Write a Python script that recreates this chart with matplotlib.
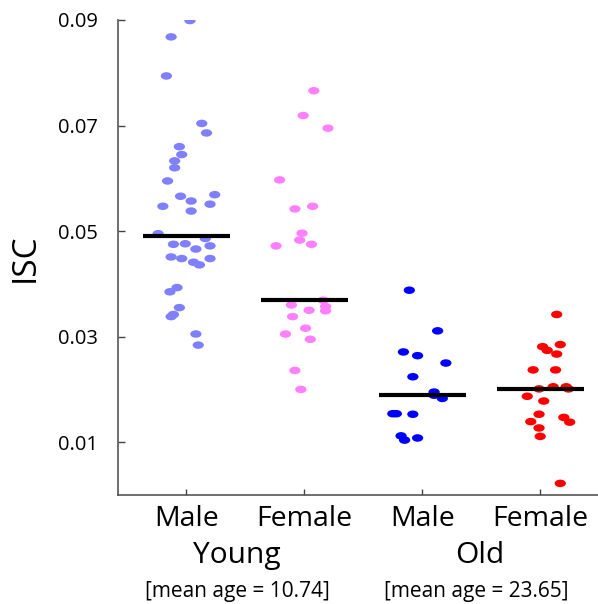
import numpy as np
import matplotlib.pyplot as plt
from matplotlib.path import Path
from matplotlib.markers import MarkerStyle
from matplotlib.transforms import Affine2D

plt.rcParams['font.family'] = ['Open Sans', 'DejaVu Sans']

# ISC values per group
male_young = [0.0899, 0.0868, 0.0794, 0.0704, 0.0686, 0.0660, 0.0645, 0.0633, 0.0620,
              0.0595, 0.0566, 0.0557, 0.0569, 0.0547, 0.0551, 0.0538, 0.0495, 0.0486,
              0.0475, 0.0476, 0.0466, 0.0472, 0.0451, 0.0448, 0.0441, 0.0436, 0.0448,
              0.0393, 0.0385, 0.0355, 0.0342, 0.0338, 0.0305, 0.0284]
female_young = [0.0766, 0.0719, 0.0695, 0.0597, 0.0542, 0.0547, 0.0496, 0.0483, 0.0475,
                0.0472, 0.0369, 0.0360, 0.0357, 0.0350, 0.0349, 0.0338, 0.0316, 0.0305,
                0.0295, 0.0236, 0.0200]
male_old = [0.0388, 0.0311, 0.0271, 0.0264, 0.0250, 0.0224, 0.0195, 0.0189, 0.0183,
            0.0154, 0.0154, 0.0153, 0.0112, 0.0104, 0.0108]
female_old = [0.0342, 0.0281, 0.0285, 0.0274, 0.0267, 0.0237, 0.0237, 0.0201, 0.0205,
              0.0205, 0.0201, 0.0187, 0.0178, 0.0153, 0.0147, 0.0139, 0.0138, 0.0127,
              0.0111, 0.0022]

# horizontal jitter of each dot as drawn
jit_male_young = [0.03, -0.13, -0.17, 0.13, 0.17, -0.06, -0.04, -0.10, -0.10, -0.16, -0.05,
                  0.04, 0.24, -0.20, 0.20, 0.04, -0.24, 0.16, -0.11, -0.01, 0.08, 0.20,
                  -0.13, -0.04, 0.06, 0.11, 0.20, -0.08, -0.14, -0.06, -0.11, -0.13, 0.08, 0.10]
jit_female_young = [0.08, -0.01, 0.20, -0.21, -0.08, 0.07, -0.02, -0.04, 0.06, -0.24, 0.16,
                    -0.11, 0.18, 0.04, 0.18, -0.10, 0.01, -0.16, 0.05, -0.08, -0.03]
jit_male_old = [-0.11, 0.13, -0.16, -0.04, 0.20, -0.08, 0.10, 0.10, 0.17, -0.25, -0.22,
                -0.08, -0.18, -0.15, -0.04]
jit_female_old = [0.14, 0.02, 0.17, 0.06, 0.14, -0.06, 0.13, -0.01, 0.11, 0.22, 0.24,
                  -0.11, 0.03, -0.01, 0.20, -0.08, 0.25, -0.01, 0.00, 0.17]

groups = [male_young, female_young, male_old, female_old]
jitters = [jit_male_young, jit_female_young, jit_male_old, jit_female_old]
colors = ["#8080ff", "#ff80ff", "#0000ff", "#ff0000"]
sex_labels = ["Male", "Female", "Male", "Female"]
age_groups = ["Young", "Old"]
mean_ages = ["[mean age = 10.74]", "[mean age = 23.65]"]

# flattened ellipse for the dots
circ = Path.unit_circle()
ellipse = circ.transformed(Affine2D().scale(1.5, 1.0))

fig = plt.figure(figsize=(5.98, 6.04), dpi=100)
ax = fig.add_axes([0.197, 0.1805, 0.803, 0.7864])

for i, (vals, jit, c) in enumerate(zip(groups, jitters, colors)):
    x = i + 1 + np.array(jit)
    ax.scatter(x, vals, s=66, marker=MarkerStyle(ellipse), color=c, edgecolors="none", zorder=2)
    med = np.median(vals)
    ax.plot([i + 1 - 0.37, i + 1 + 0.37], [med, med], color="black", lw=3, zorder=3,
            solid_capstyle="butt")

ax.set_xlim(0.418, 4.49)
ax.set_ylim(0.0, 0.09)
ax.set_yticks([0.01, 0.03, 0.05, 0.07, 0.09])
ax.set_yticklabels(["0.01", "0.03", "0.05", "0.07", "0.09"])
ax.set_xticks([1, 2, 3, 4])
ax.set_xticklabels(sex_labels)
ax.tick_params(axis="y", direction="in", length=5, width=1, labelsize=14.5, pad=14, colors="#444444", labelcolor="black")
ax.tick_params(axis="x", direction="in", length=4, width=1, labelsize=20.5, pad=7, colors="#444444", labelcolor="black")
for s in ["top", "right"]:
    ax.spines[s].set_visible(False)
for s in ["left", "bottom"]:
    ax.spines[s].set_color("#555555")
    ax.spines[s].set_linewidth(1.2)

ax.set_ylabel("ISC", fontsize=24, labelpad=12)

trans = ax.get_xaxis_transform()
ax.text(1.43, -0.143, age_groups[0], transform=trans, ha="center", va="baseline", fontsize=21.5)
ax.text(3.49, -0.143, age_groups[1], transform=trans, ha="center", va="baseline", fontsize=21.5)
ax.text(1.43, -0.214, mean_ages[0], transform=trans, ha="center", va="baseline", fontsize=15)
ax.text(3.46, -0.214, mean_ages[1], transform=trans, ha="center", va="baseline", fontsize=15)

fig.savefig("out.png", dpi=100)
